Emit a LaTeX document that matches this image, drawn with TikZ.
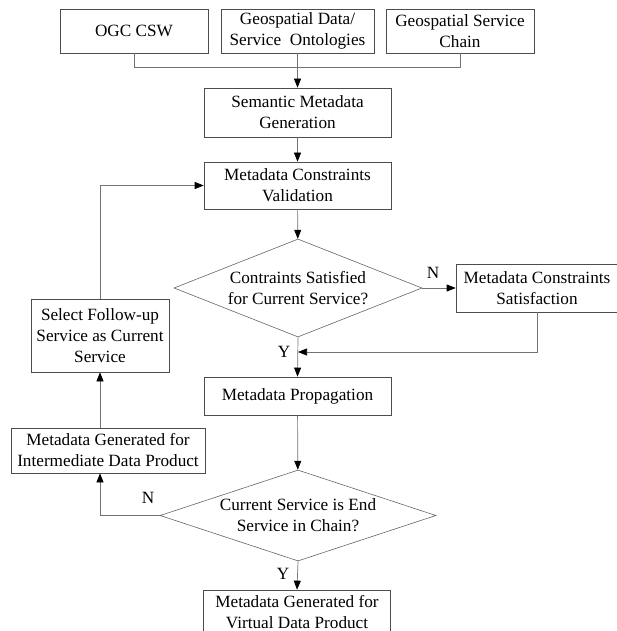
\documentclass[tikz,border=0pt]{standalone}
\usepackage{fontspec}
\setmainfont{Liberation Serif}
\usetikzlibrary{shapes.geometric,arrows.meta}
\begin{document}
\begin{tikzpicture}[x=1pt,y=-1pt,
  txt/.style={font=\fontsize{17.2}{21}\selectfont},
  box/.style={txt, draw=black!70, line width=0.7pt, fill=white, align=center, inner sep=0pt},
  decision/.style={txt, diamond, draw=black!60, line width=0.6pt, fill=white, align=center, inner sep=0pt},
  link/.style={draw=black!55, line width=0.7pt},
  flow/.style={link, -{Triangle[length=9pt,width=7pt,color=black]}},
  tag/.style={txt, inner sep=0pt}
]
\clip (0,0) rectangle (617,631);
\fill[white] (0,0) rectangle (617,631);

% sources
\node[box, minimum width=148pt, minimum height=44pt] (ogc) at (134,31) {OGC CSW};
\node[box, minimum width=153pt, minimum height=44pt] (data) at (297.5,31) {Geospatial Data/\\Service\ \ Ontologies};
\node[box, minimum width=148pt, minimum height=44pt] (chain) at (460,31) {Geospatial Service\\Chain};

% main column
\node[box, minimum width=187pt, minimum height=49pt] (sem) at (297.5,112.5) {Semantic Metadata\\Generation};
\node[box, minimum width=187pt, minimum height=47pt] (val) at (297.5,185.5) {Metadata Constraints\\Validation};
\node[decision, aspect=2.53, minimum width=248pt, minimum height=98pt] (d1) at (298,288) {Contraints Satisfied\\for Current Service?};
\node[box, minimum width=162pt, minimum height=48pt] (sat) at (537,288) {Metadata Constraints\\Satisfaction};
\node[box, minimum width=187pt, minimum height=38pt] (prop) at (297.5,396) {Metadata Propagation};
\node[decision, aspect=3.03, minimum width=276pt, minimum height=91pt] (d2) at (298,515.5) {Current Service is End\\Service in Chain?};
\node[box, minimum width=187pt, minimum height=44pt] (fin) at (297,612) {Metadata Generated for\\Virtual Data Product};

% loop back column
\node[box, minimum width=138pt, minimum height=73pt] (sel) at (100,335.5) {Select Follow-up\\Service as Current\\Service};
\node[box, minimum width=194pt, minimum height=45pt] (inter) at (108,450.5) {Metadata Generated for\\Intermediate Data Product};

% branch labels
\node[tag] (n1) at (433,273) {N};
\node[tag] (y1) at (284,352) {Y};
\node[tag] (n2) at (148,498) {N};
\node[tag] (y2) at (283,574) {Y};

% connectors
\coordinate (merge) at (298,67);
\coordinate (join) at (298,352);
\draw[link] (ogc.south) |- (merge);
\draw[link] (chain.south) |- (merge);
\draw[flow] (data.south) -- (sem.north);
\draw[flow] (sem) -- (val);
\draw[flow] (val) -- (d1);
\draw[flow] (d1.east) -- (sat.west);
\draw[flow] (sat.south) |- (join);
\draw[flow] (d1.south) -- (prop.north);
\draw[flow] (prop) -- (d2);
\draw[flow] (d2.west) -| (inter.south -| sel.south);
\draw[flow] (inter.north -| sel.south) -- (sel.south);
\draw[flow] (sel.north) |- (val.west);
\draw[flow] (d2.south) -- (fin.north);
\end{tikzpicture}
\end{document}
